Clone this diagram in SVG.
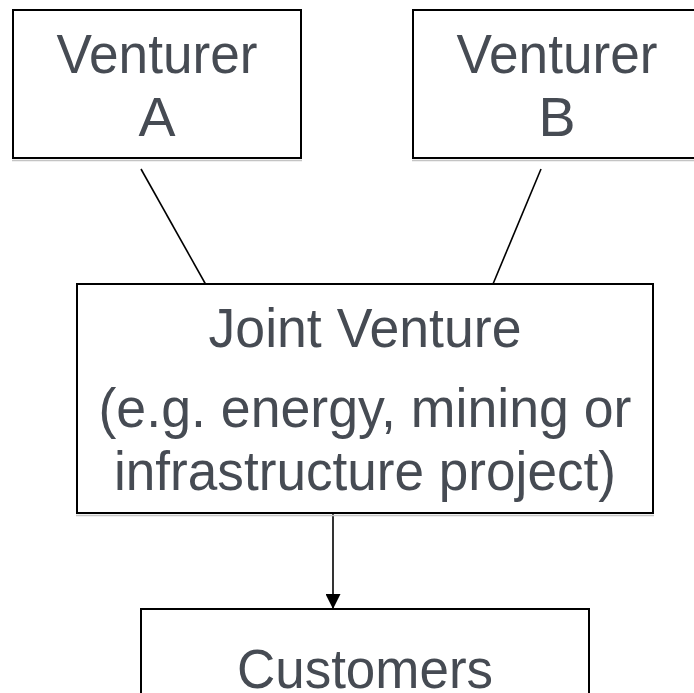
<svg xmlns="http://www.w3.org/2000/svg" width="694" height="693" viewBox="0 0 694 693">
<style>
.box{fill:#ffffff;stroke:#000000;stroke-width:2}
.shadow{stroke:#c4c4c4;stroke-width:1.5;fill:none}
.lbl{font-family:"Liberation Sans",Arial,sans-serif;font-size:55.5px;fill:#464b53;text-anchor:middle}
.conn{stroke:#000000;stroke-width:1.6;fill:none}
</style>
<defs>
<marker id="arr" markerWidth="15" markerHeight="15" refX="15" refY="7.5" orient="auto" markerUnits="userSpaceOnUse">
<path d="M0,0 L15,7.5 L0,15 Z" fill="#000000"/>
</marker>
</defs>
<rect width="694" height="693" fill="#ffffff"/>
<g id="connectors">
<line class="conn" x1="141" y1="169" x2="205.5" y2="284"/>
<line class="conn" x1="541" y1="169" x2="493" y2="284"/>
<line class="conn" x1="333" y1="513" x2="333" y2="609" stroke-width="2" marker-end="url(#arr)"/>
</g>
<g id="venturer-a">
<line class="shadow" x1="12" y1="160.5" x2="302" y2="160.5"/>
<rect class="box" x="13" y="10" width="288" height="148"/>
<text class="lbl" x="157" y="73" textLength="201" lengthAdjust="spacingAndGlyphs">Venturer</text>
<text class="lbl" x="157" y="136">A</text>
</g>
<g id="venturer-b">
<line class="shadow" x1="412" y1="160.5" x2="694" y2="160.5"/>
<rect class="box" x="413" y="10" width="288" height="148"/>
<text class="lbl" x="557" y="73" textLength="201" lengthAdjust="spacingAndGlyphs">Venturer</text>
<text class="lbl" x="557" y="136">B</text>
</g>
<g id="joint-venture">
<line class="shadow" x1="76" y1="515.5" x2="654" y2="515.5"/>
<rect class="box" x="77" y="284" width="576" height="229"/>
<text class="lbl" x="365" y="347" textLength="313" lengthAdjust="spacingAndGlyphs">Joint Venture</text>
<text class="lbl" x="365" y="427" textLength="533" lengthAdjust="spacingAndGlyphs">(e.g. energy, mining or</text>
<text class="lbl" x="365" y="490" textLength="502" lengthAdjust="spacingAndGlyphs">infrastructure project)</text>
</g>
<g id="customers">
<rect class="box" x="141" y="609" width="448" height="100"/>
<text class="lbl" x="365" y="688" textLength="256" lengthAdjust="spacingAndGlyphs">Customers</text>
</g>
</svg>
